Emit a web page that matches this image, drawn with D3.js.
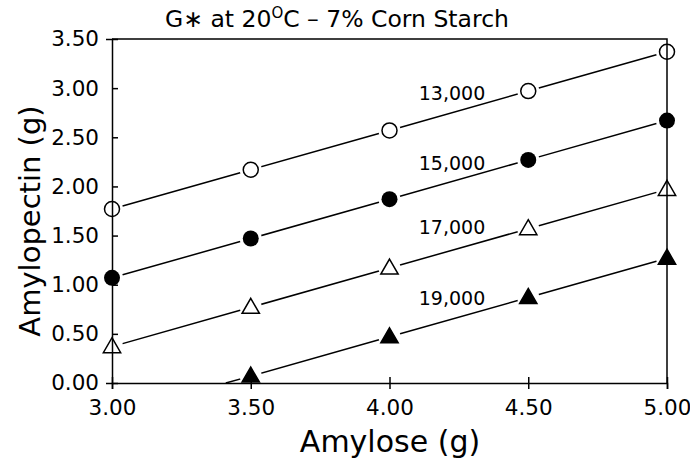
<!DOCTYPE html>
<html><head><meta charset="utf-8">
<script src="https://cdn.jsdelivr.net/npm/d3@7"></script>
<style>body{margin:0;background:#fff}svg{display:block}text{font-family:"DejaVu Sans",sans-serif;fill:#000}</style>
</head><body><svg id="c" width="690" height="465"></svg>
<script>
const amylose = [3.0, 3.5, 4.0, 4.5, 5.0];
const s13000 = [1.77, 2.17, 2.57, 2.97, 3.37];
const s15000 = [1.07, 1.47, 1.87, 2.27, 2.67];
const s17000 = [0.37, 0.77, 1.17, 1.57, 1.97];
const s19000 = [null, 0.07, 0.47, 0.87, 1.27];
const s19000LineStart = [3.41, 0.0];
const seriesNames = ["13,000", "15,000", "17,000", "19,000"];
const labelPos = [[4.345, 2.95], [4.345, 2.23], [4.345, 1.58], [4.345, 0.86]];
const xTicks = [3.0, 3.5, 4.0, 4.5, 5.0];
const yTicks = [0, 0.5, 1.0, 1.5, 2.0, 2.5, 3.0, 3.5];

const svg = d3.select("#c");
const x = d3.scaleLinear().domain([3, 5]).range([112, 667]);
const y = d3.scaleLinear().domain([0, 3.5]).range([383, 39]);

const series = [
  {name: seriesNames[0], vals: s13000, shape: "circle", filled: false},
  {name: seriesNames[1], vals: s15000, shape: "circle", filled: true},
  {name: seriesNames[2], vals: s17000, shape: "triangle", filled: false},
  {name: seriesNames[3], vals: s19000, shape: "triangle", filled: true, start: s19000LineStart}
];
series.forEach(s => {
  s.pts = amylose.map((a, i) => [a, s.vals[i]]).filter(p => p[1] !== null);
  s.linePts = s.start ? [s.start].concat(s.pts) : s.pts;
});

const line = d3.line().x(d => x(d[0])).y(d => y(d[1]));
const gLines = svg.append("g");
series.forEach(s => {
  gLines.append("path").attr("d", line(s.linePts)).attr("fill", "none")
    .attr("stroke", "#000").attr("stroke-width", 1.5);
});
const gHalo = svg.append("g");
series.forEach(s => {
  s.pts.forEach(p => {
    gHalo.append("circle").attr("cx", x(p[0])).attr("cy", y(p[1])).attr("r", 11).attr("fill", "#fff");
  });
});

const gx = svg.append("g").attr("transform", `translate(0,${y(0)})`)
  .call(d3.axisBottom(x).tickValues(xTicks).tickFormat(d3.format(".2f")).tickSize(6).tickPadding(11));
const gy = svg.append("g").attr("transform", `translate(${x(3)},0)`)
  .call(d3.axisLeft(y).tickValues(yTicks).tickFormat(d3.format(".2f")).tickSize(6).tickPadding(7));
[gx, gy].forEach(g => {
  g.attr("font-size", null).attr("font-family", null);
  g.select(".domain").attr("stroke-width", 1.5).attr("stroke", "#000");
  g.selectAll(".tick line").attr("stroke-width", 1.5).attr("stroke", "#000");
  g.selectAll(".tick text").style("font-size", "21.5px").style("font-family", '"DejaVu Sans",sans-serif').attr("fill", "#000");
});
gx.selectAll(".tick line").attr("y1", -6);
gy.selectAll(".tick line").attr("x2", 6);
gx.selectAll(".tick text").attr("dy", "0.71em");
svg.append("path").attr("d", `M${x(3)},${y(3.5)}H${x(5)}V${y(0)}`).attr("fill", "none")
  .attr("stroke", "#000").attr("stroke-width", 1.5);

const gM = svg.append("g");
const tri = d3.symbol().type(d3.symbolTriangle).size(130);
series.forEach(s => {
  s.pts.forEach(p => {
    if (s.shape === "circle") {
      gM.append("circle").attr("cx", x(p[0])).attr("cy", y(p[1])).attr("r", s.filled ? 8 : 7.5)
        .attr("fill", s.filled ? "#000" : "none").attr("stroke", "#000").attr("stroke-width", s.filled ? 0 : 1.5);
    } else {
      gM.append("path").attr("d", tri()).attr("transform", `translate(${x(p[0])},${y(p[1]) + 1})`)
        .attr("fill", s.filled ? "#000" : "none").attr("stroke", "#000").attr("stroke-width", 1.5);
    }
  });
});

series.forEach((s, i) => {
  svg.append("text").attr("x", x(labelPos[i][0])).attr("y", y(labelPos[i][1]))
    .attr("text-anchor", "end").attr("dy", "0.35em").style("font-size", "19px").text(s.name);
});

const t = svg.append("text").attr("x", 337).attr("y", 27).attr("text-anchor", "middle").style("font-size", "23.5px");
t.append("tspan").text("G\u2217 at 20");
t.append("tspan").attr("dy", -9).style("font-size", "15px").text("O");
t.append("tspan").attr("dy", 9).text("C \u2013 7% Corn Starch");

svg.append("text").attr("x", 390).attr("y", 452).attr("text-anchor", "middle").style("font-size", "30px").text("Amylose (g)");
svg.append("text").attr("transform", "translate(40,221) rotate(-90)").attr("text-anchor", "middle")
  .style("font-size", "29px").text("Amylopectin (g)");
</script></body></html>
